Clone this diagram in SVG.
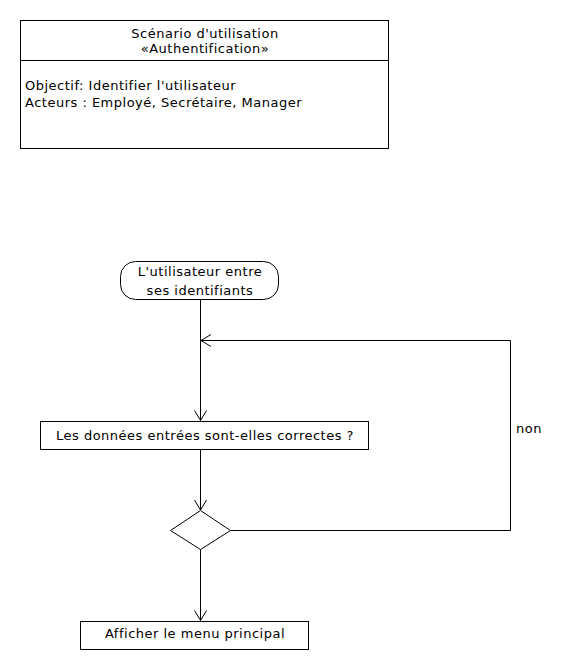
<svg xmlns="http://www.w3.org/2000/svg" width="562" height="670" viewBox="0 0 562 670">
<defs>
<marker id="arr" markerWidth="12" markerHeight="14" refX="11" refY="7" orient="auto" markerUnits="userSpaceOnUse">
<path d="M1,1 L11,7 L1,13" fill="none" stroke="#000" stroke-width="1"/>
</marker>
</defs>
<style>
text{font-family:"DejaVu Sans",sans-serif;font-size:13px;letter-spacing:0.5px;fill:#000}
.c{text-anchor:middle}
.s{fill:#fff;stroke:#000;stroke-width:1}
.l{fill:none;stroke:#000;stroke-width:1}
</style>
<rect width="562" height="670" fill="#fff"/>
<g id="scenario">
<rect class="s" x="20.5" y="20.5" width="368" height="128"/>
<line class="l" x1="20.5" y1="60.5" x2="388.5" y2="60.5"/>
<text class="c" x="205" y="38">Scénario d'utilisation</text>
<text class="c" x="205" y="53">«Authentification»</text>
<text x="25" y="90">Objectif: Identifier l'utilisateur</text>
<text x="25" y="107">Acteurs : Employé, Secrétaire, Manager</text>
</g>
<g id="start">
<rect class="s" x="120.5" y="261.5" width="158" height="38" rx="15" ry="15"/>
<text class="c" x="200" y="276">L'utilisateur entre</text>
<text class="c" x="200" y="295">ses identifiants</text>
</g>
<g id="check">
<rect class="s" x="40.5" y="421.5" width="328" height="28"/>
<text class="c" x="205" y="440">Les données entrées sont-elles correctes ?</text>
</g>
<g id="decision">
<polygon class="s" points="200.5,510.5 230.5,530.5 200.5,549.5 170.5,530.5"/>
</g>
<g id="menu">
<rect class="s" x="80.5" y="621.5" width="228" height="28"/>
<text class="c" x="195" y="638">Afficher le menu principal</text>
</g>
<g id="connectors">
<line class="l" x1="200.5" y1="299.5" x2="200.5" y2="420.5" marker-end="url(#arr)"/>
<line class="l" x1="200.5" y1="449.5" x2="200.5" y2="510" marker-end="url(#arr)"/>
<line class="l" x1="200.5" y1="549.5" x2="200.5" y2="620.5" marker-end="url(#arr)"/>
<polyline class="l" points="230.5,530.5 510.5,530.5 510.5,340.5 201,340.5" marker-end="url(#arr)"/>
<text x="516" y="433">non</text>
</g>
</svg>
